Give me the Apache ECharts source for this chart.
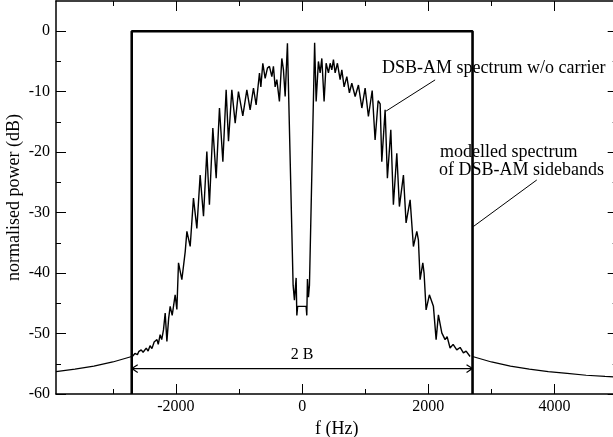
<!DOCTYPE html>
<html>
<head>
<meta charset="utf-8">
<script src="https://cdn.jsdelivr.net/npm/echarts@6/dist/echarts.min.js"></script>
<style>
html,body{margin:0;padding:0;overflow:hidden;background:#fff;}
#c{width:620px;height:437px;}
</style>
</head>
<body>
<div id="c"></div>
<script>
// ---- data ----
const specF = [-2690,-2650,-2610,-2590,-2550,-2520,-2470,-2440,-2410,-2380,-2345,-2300,-2280,-2250,-2225,-2197,-2170,-2143,-2115,-2091,-2059,-2012,-1985,-1959,-1906,-1853,-1826,-1774,-1722,-1668,-1616,-1563,-1510,-1469,-1415,-1362,-1310,-1256,-1204,-1167,-1114,-1061,-1009,-940,-876,-824,-771,-729,-676,-654,-623,-586,-550,-518,-480,-455,-428,-401,-360,-322,-296,-269,-233,-143,-122,-95,-84,-71,63,74,84,100,116,198,222,258,285,312,348,380,417,444,470,496,523,559,602,629,665,708,749,787,840,892,946,998,1050,1110,1156,1204,1236,1262,1315,1351,1405,1446,1500,1541,1605,1647,1711,1763,1817,1842,1869,1912,1932,1964,2016,2080,2123,2159,2213,2265,2297,2344,2392,2450,2503,2555,2598,2661];
const specDb = [-53.8,-53.3,-53.5,-53.0,-52.7,-53.1,-52.4,-52.9,-52.0,-52.5,-51.4,-51.0,-51.8,-50.2,-51.0,-49.4,-46.6,-51.3,-47.5,-45.5,-47.0,-43.6,-46.0,-38.3,-41.1,-36.5,-33.1,-35.6,-27.6,-32.6,-23.8,-30.6,-19.9,-28.7,-16.0,-24.3,-12.7,-21.6,-9.7,-18.2,-9.7,-15.2,-10.0,-14.0,-9.7,-13.0,-9.4,-12.2,-6.9,-9.2,-5.3,-7.8,-6.1,-5.8,-7.5,-5.8,-9.2,-8.0,-11.6,-4.5,-6.4,-10.8,-2.0,-42,-44.5,-40.8,-47,-45.5,-45.5,-47,-41,-44,-42,-1.9,-11.6,-5.0,-6.9,-4.5,-11.6,-5.3,-6.9,-5.3,-6.4,-4.7,-6.9,-5.3,-8.0,-6.4,-9.2,-7.5,-10.2,-8.6,-10.8,-8.9,-12.7,-9.4,-14.1,-9.8,-18.0,-11.5,-12.0,-21.6,-13.0,-24.3,-16.3,-28.7,-20.2,-29.0,-23.8,-31.7,-27.9,-35.6,-33.1,-34.5,-41.1,-38.3,-40.0,-46.1,-43.6,-45.5,-51.0,-46.9,-49.9,-51.0,-50.5,-52.4,-51.8,-52.7,-52.3,-53.2,-52.9,-53.8];

const modelLeftF = [-3900,-3600,-3300,-3000,-2700];
const modelLeftDb = [-56.3,-55.9,-55.4,-54.7,-53.8];
const modelRightF = [2700,3000,3300,3600,3900,4200,4500,4800,5000];
const modelRightDb = [-53.8,-54.7,-55.4,-55.9,-56.3,-56.6,-56.9,-57.1,-57.2];

const bandEdge = 2700;      // B (Hz)
const bandLevel = 0;        // dB
const arrowLevel = -55.8;   // dB

const xMajorTicks = [-2000,0,2000,4000];
const xMinorTicks = [-3000,-1000,1000,3000];
const yMajorTicks = [-60,-50,-40,-30,-20,-10,0];
const yMinorTicks = [-55,-45,-35,-25,-15,-5];

// ---- chart ----
const FONT = '"Liberation Serif", "Times New Roman", serif';
const X_MIN = -3900, X_MAX = 5000, Y_MIN = -60, Y_MAX = 5;

const spec = specF.map((f,i)=>[f,specDb[i]]);
const model = modelLeftF.map((f,i)=>[f,modelLeftDb[i]]).concat([[null,null]]).concat(modelRightF.map((f,i)=>[f,modelRightDb[i]]));
const band = [[-bandEdge,Y_MIN],[-bandEdge,bandLevel],[bandEdge,bandLevel],[bandEdge,Y_MIN]];
const ahx = 95, ahy = 0.63;
const arrow = [[-bandEdge+ahx,arrowLevel+ahy],[-bandEdge,arrowLevel],[-bandEdge+ahx,arrowLevel-ahy],[null,null],
               [-bandEdge,arrowLevel],[bandEdge,arrowLevel],[null,null],
               [bandEdge-ahx,arrowLevel+ahy],[bandEdge,arrowLevel],[bandEdge-ahx,arrowLevel-ahy]];
const lead1 = [[2107,-8.05],[1331,-13.2]];
const lead2 = [[3718,-24.6],[2713,-32.3]];

const plain = v => String(v);

function xAx(pos, major, showLine, showLabel){
  return {
    type:'value', min:X_MIN, max:X_MAX, position:pos,
    axisLine:{show:showLine, onZero:false, lineStyle:{color:'#000', width:1.5}},
    axisTick:{show:true, inside:true, length: major?10:5, customValues: major?xMajorTicks:xMinorTicks, lineStyle:{color:'#000', width:1}},
    axisLabel:{show:showLabel, customValues:xMajorTicks, formatter:plain, color:'#000', fontFamily:FONT, fontSize:16, margin:5},
    splitLine:{show:false}
  };
}
function yAx(pos, major, showLine, showLabel){
  return {
    type:'value', min:Y_MIN, max:Y_MAX, position:pos,
    axisLine:{show:showLine, onZero:false, lineStyle:{color:'#000', width:1.5}},
    axisTick:{show:true, inside:true, length: major?10:5, customValues: major?yMajorTicks:yMinorTicks, lineStyle:{color:'#000', width:1}},
    axisLabel:{show:showLabel, customValues:yMajorTicks, formatter:plain, color:'#000', fontFamily:FONT, fontSize:16, margin:6},
    splitLine:{show:false}
  };
}

const xAxes = [xAx('bottom',true,true,true), xAx('bottom',false,false,false), xAx('top',true,true,false), xAx('top',false,false,false)];
xAxes[0].name = 'f (Hz)';
xAxes[0].nameLocation = 'middle';
xAxes[0].nameGap = 22;
xAxes[0].nameTextStyle = {color:'#000', fontFamily:FONT, fontSize:18};
const yAxes = [yAx('left',true,true,true), yAx('left',false,false,false), yAx('right',true,true,false), yAx('right',false,false,false)];
yAxes[0].name = 'normalised power (dB)';
yAxes[0].nameLocation = 'middle';
yAxes[0].nameGap = 33;
yAxes[0].nameMoveOverlap = false;
yAxes[0].nameRotate = 90;
yAxes[0].nameTextStyle = {color:'#000', fontFamily:FONT, fontSize:18};

function lineSeries(data, width){
  return {type:'line', xAxisIndex:0, yAxisIndex:0, data:data, showSymbol:false, symbol:'none',
          connectNulls:false, animation:false, silent:true,
          lineStyle:{color:'#000', width:width}, z:3};
}

const option = {
  animation:false,
  backgroundColor:'#fff',
  grid:{left:56, right:2.3, top:1, bottom:43, containLabel:false, outerBoundsMode:'none'},
  xAxis:xAxes,
  yAxis:yAxes,
  series:[
    lineSeries(spec, 1.4),
    lineSeries(model, 1.2),
    lineSeries(band, 2.6),
    lineSeries(arrow, 1.2),
    lineSeries(lead1, 1),
    lineSeries(lead2, 1)
  ],
  graphic:[
    {type:'text', x:382, y:68, style:{text:'DSB-AM spectrum w/o carrier', font:'18px '+FONT, fill:'#000', align:'left', verticalAlign:'middle'}},
    {type:'text', x:440, y:152, style:{text:'modelled spectrum', font:'18px '+FONT, fill:'#000', align:'left', verticalAlign:'middle'}},
    {type:'text', x:439, y:170, style:{text:'of DSB-AM sidebands', font:'18px '+FONT, fill:'#000', align:'left', verticalAlign:'middle'}},
    {type:'text', x:302, y:355, style:{text:'2 B', font:'16px '+FONT, fill:'#000', align:'center', verticalAlign:'middle'}}
  ]
};
const chart = echarts.init(document.getElementById('c'), null, {renderer:'canvas'});
chart.setOption(option);
</script>
</body>
</html>
